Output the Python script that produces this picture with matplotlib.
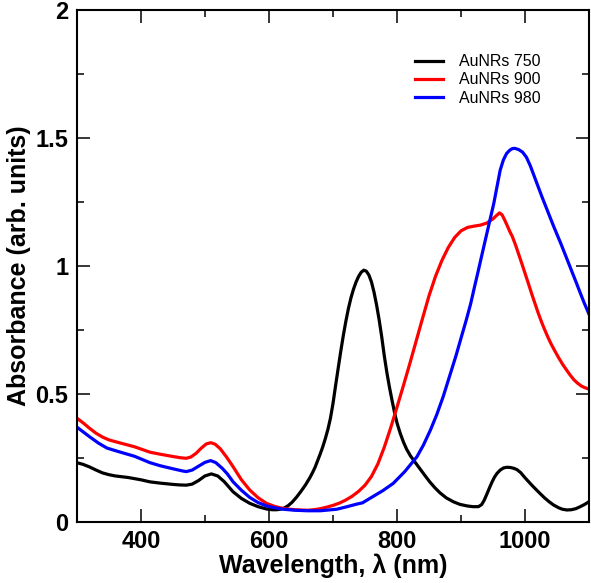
import matplotlib
matplotlib.use("Agg")
import matplotlib.pyplot as plt
from matplotlib.ticker import MultipleLocator

plt.rcParams['font.family'] = ['Liberation Sans', 'DejaVu Sans']

# AuNRs 750 (black)
wl_750 = [300, 310, 320, 330, 340, 350, 360, 380, 400, 414, 430, 450, 460, 471, 480,
          490, 500, 510, 520, 530, 544, 557, 570, 583, 596, 605, 612, 618, 624, 630,
          636, 643, 650, 657, 664, 668, 672, 676, 680, 684, 688, 692, 696, 700, 704,
          708, 712, 716, 720, 724, 728, 732, 736, 740, 744, 748, 752, 756, 760, 764,
          768, 772, 776, 780, 784, 788, 792, 796, 800, 805, 810, 815, 821, 828, 836,
          844, 851, 859, 867, 877, 888, 898, 909, 918, 927, 932, 936, 940, 944, 948,
          952, 956, 961, 966, 971, 977, 982, 987, 993, 998, 1003, 1010, 1017, 1023, 1030,
          1037, 1044, 1052, 1058, 1065, 1072, 1079, 1086, 1093, 1100]
abs_750 = [0.232, 0.225, 0.215, 0.203, 0.192, 0.185, 0.180, 0.174, 0.165, 0.157, 0.152,
           0.147, 0.145, 0.144, 0.148, 0.162, 0.180, 0.188, 0.180, 0.158, 0.118, 0.092,
           0.073, 0.060, 0.051, 0.048, 0.048, 0.050, 0.055, 0.064, 0.077, 0.097, 0.120,
           0.145, 0.174, 0.193, 0.214, 0.240, 0.266, 0.294, 0.326, 0.362, 0.406, 0.464,
           0.533, 0.600, 0.666, 0.728, 0.784, 0.834, 0.876, 0.910, 0.938, 0.960, 0.976,
           0.984, 0.980, 0.965, 0.938, 0.898, 0.848, 0.790, 0.724, 0.650, 0.585, 0.528,
           0.477, 0.428, 0.386, 0.346, 0.312, 0.284, 0.258, 0.234, 0.207, 0.180, 0.157,
           0.134, 0.114, 0.094, 0.079, 0.069, 0.063, 0.060, 0.060, 0.068, 0.085, 0.108,
           0.132, 0.155, 0.175, 0.190, 0.203, 0.211, 0.214, 0.213, 0.210, 0.205, 0.193,
           0.178, 0.164, 0.145, 0.127, 0.112, 0.095, 0.080, 0.067, 0.056, 0.050, 0.047,
           0.048, 0.052, 0.060, 0.069, 0.080]

# AuNRs 900 (red)
wl_900 = [300, 310, 320, 330, 340, 350, 360, 372, 390, 414, 430, 450, 462, 471, 478,
          486, 494, 502, 509, 516, 524, 534, 544, 557, 570, 583, 596, 610, 622, 640,
          660, 670, 680, 690, 700, 710, 720, 730, 740, 750, 760, 770, 780, 790, 800,
          810, 820, 830, 840, 850, 860, 870, 880, 890, 900, 910, 920, 930, 940, 950,
          955, 960, 964, 968, 972, 976, 980, 985, 990, 995, 1000, 1005, 1010, 1015, 1020,
          1025, 1030, 1035, 1040, 1046, 1052, 1058, 1064, 1070, 1076, 1082, 1088, 1094,
          1100]
abs_900 = [0.406, 0.387, 0.366, 0.347, 0.332, 0.321, 0.314, 0.306, 0.294, 0.273, 0.265,
           0.256, 0.251, 0.249, 0.254, 0.268, 0.288, 0.305, 0.310, 0.304, 0.286, 0.253,
           0.216, 0.165, 0.125, 0.095, 0.073, 0.060, 0.053, 0.048, 0.046, 0.048, 0.052,
           0.058, 0.065, 0.074, 0.086, 0.101, 0.120, 0.144, 0.178, 0.227, 0.292, 0.368,
           0.450, 0.534, 0.620, 0.709, 0.798, 0.885, 0.960, 1.022, 1.073, 1.112, 1.138,
           1.151, 1.156, 1.160, 1.168, 1.185, 1.197, 1.208, 1.200, 1.180, 1.158, 1.135,
           1.115, 1.082, 1.045, 1.008, 0.970, 0.932, 0.893, 0.856, 0.819, 0.785, 0.754,
           0.725, 0.698, 0.670, 0.643, 0.618, 0.596, 0.575, 0.556, 0.542, 0.531, 0.524,
           0.519]

# AuNRs 980 (blue)
wl_980 = [300, 310, 320, 334, 347, 360, 372, 390, 414, 430, 450, 466, 471, 480, 490,
          500, 509, 517, 527, 535, 544, 557, 570, 583, 596, 610, 622, 640, 660, 680,
          706, 722, 737, 746, 762, 778, 794, 812, 831, 841, 852, 862, 872, 882, 892,
          900, 908, 915, 921, 927, 933, 939, 945, 951, 956, 961, 966, 971, 976, 980,
          984, 990, 996, 1002, 1008, 1014, 1020, 1026, 1032, 1038, 1044, 1050, 1056,
          1062, 1068, 1074, 1080, 1086, 1092, 1100]
abs_980 = [0.371, 0.352, 0.333, 0.308, 0.289, 0.279, 0.270, 0.257, 0.232, 0.220, 0.208,
           0.199, 0.197, 0.203, 0.218, 0.233, 0.240, 0.232, 0.210, 0.188, 0.157, 0.124,
           0.096, 0.076, 0.063, 0.055, 0.050, 0.046, 0.044, 0.044, 0.050, 0.060, 0.070,
           0.075, 0.099, 0.123, 0.151, 0.197, 0.255, 0.300, 0.359, 0.420, 0.490, 0.570,
           0.650, 0.720, 0.789, 0.854, 0.920, 0.984, 1.050, 1.115, 1.180, 1.245, 1.310,
           1.375, 1.415, 1.440, 1.453, 1.459, 1.460, 1.455, 1.445, 1.425, 1.392, 1.352,
           1.312, 1.272, 1.234, 1.196, 1.158, 1.122, 1.086, 1.048, 1.010, 0.972, 0.934,
           0.895, 0.857, 0.810]

fig = plt.figure(figsize=(5.91, 5.83), dpi=100)
ax = fig.add_axes([0.130, 0.1046, 0.867, 0.878])

ax.plot(wl_750, abs_750, color='black', lw=2.3, label='AuNRs 750')
ax.plot(wl_900, abs_900, color='red', lw=2.3, label='AuNRs 900')
ax.plot(wl_980, abs_980, color='blue', lw=2.3, label='AuNRs 980')

ax.set_xlim(300, 1100)
ax.set_ylim(0, 2)
ax.xaxis.set_major_locator(MultipleLocator(200))
ax.xaxis.set_minor_locator(MultipleLocator(100))
ax.yaxis.set_minor_locator(MultipleLocator(0.25))
ax.set_yticks([0, 0.5, 1, 1.5, 2])
ax.set_yticklabels(['0', '0.5', '1', '1.5', '2'])

ax.tick_params(which='both', direction='in', top=True, right=True, width=1.1)
ax.tick_params(which='major', length=9.5, labelsize=17, pad=6)
ax.tick_params(which='minor', length=5)
for lab in ax.get_xticklabels() + ax.get_yticklabels():
    lab.set_fontweight('bold')
for sp in ax.spines.values():
    sp.set_linewidth(1.5)

ax.set_xlabel('Wavelength, λ (nm)', fontsize=18, fontweight='bold', labelpad=0)
ax.set_ylabel('Absorbance (arb. units)', fontsize=18, fontweight='bold', labelpad=3)

ax.legend(loc='upper left', bbox_to_anchor=(0.702, 0.907), bbox_transform=fig.transFigure,
          frameon=False, fontsize=11.5, handlelength=1.75, handletextpad=1.0,
          labelspacing=0.2, borderpad=0, borderaxespad=0)

fig.savefig('out.png', dpi=100)
